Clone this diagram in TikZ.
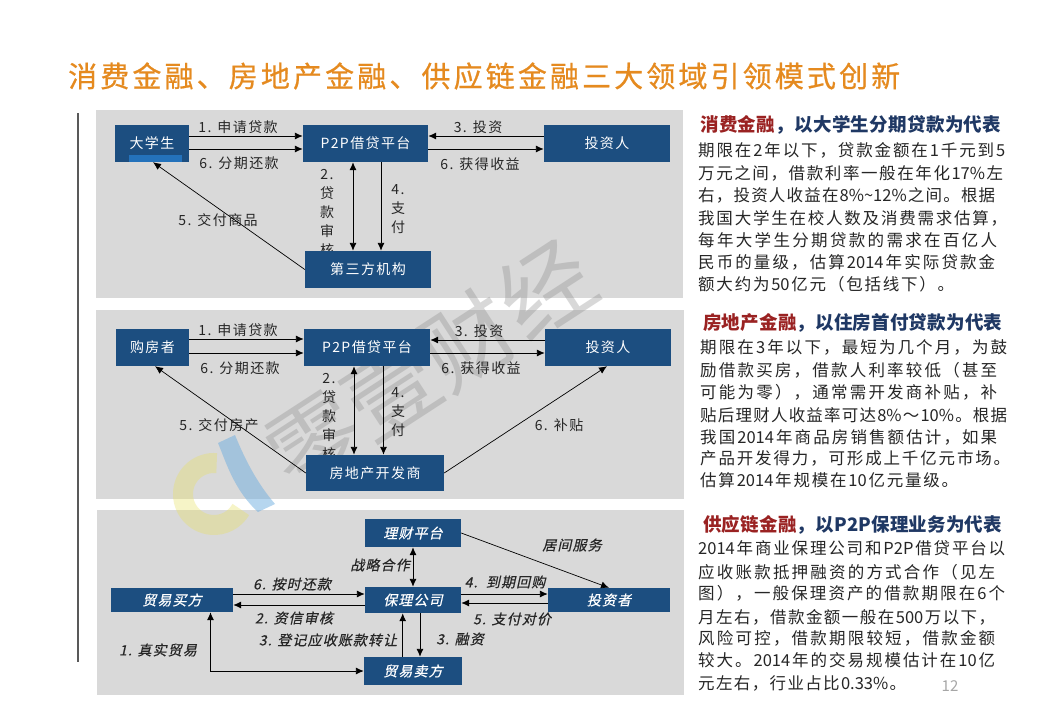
\documentclass[tikz,border=0pt]{standalone}
\usepackage{fontspec}
\usetikzlibrary{arrows.meta,calc}
\setmainfont{Noto Sans CJK SC}
\newfontfamily\cjkls[LetterSpace=10]{Noto Sans CJK SC}
\newfontfamily\cjkit[FakeSlant=0.22,LetterSpace=8,FakeBold=0.5]{Noto Sans CJK SC}
\newfontfamily\titlef[FakeBold=0.6]{Noto Sans CJK SC}
\definecolor{boxblue}{HTML}{1C4E80}
\definecolor{panelgray}{HTML}{D9D9D9}
\definecolor{headred}{HTML}{9A2222}
\definecolor{headblue}{HTML}{1F3864}
\definecolor{titleorange}{HTML}{E58A1F}
\definecolor{bodytext}{HTML}{262626}
\definecolor{logoyellow}{HTML}{E8E060}
\definecolor{logoblue}{HTML}{6FAEE0}
\tikzset{
  panel/.style={fill=panelgray,draw=none},
  bluebox/.style={fill=boxblue,draw=none,text=white,inner sep=0pt,font=\cjkls\fontsize{14}{16}\selectfont},
  itbox/.style={bluebox,font=\cjkit\fontsize{14}{16}\selectfont},
  lab/.style={inner sep=0pt,text=black!85,font=\cjkls\fontsize{14}{19}\selectfont,align=center},
  itlab/.style={lab,font=\cjkit\fontsize{14}{19}\selectfont},
  conn/.style={draw=black,line width=0.9pt,-{Latex[length=8pt,width=7pt]}},
  dbl/.style={draw=black,line width=0.9pt,{Latex[length=8pt,width=7pt]}-{Latex[length=8pt,width=7pt]}},
  thinconn/.style={conn,line width=0.7pt},
  bodyline/.style={anchor=west,inner sep=0pt,text=bodytext,font=\fontsize{16.5}{18}\selectfont},
  headline/.style={anchor=west,inner sep=0pt,font=\bfseries\fontsize{18.5}{20}\selectfont},
}
\makeatletter
\newcommand{\spreadchars}[1]{\@tfor\sc@t:=#1\do{\sc@t\hskip 0pt plus 1fil}\unskip}
\makeatother
\newcommand{\jline}[5]{\node[bodyline] (#1) at (#2,#3) {\makebox[#4pt][s]{\spreadchars{#5}}};}
\newcommand{\hdline}[6]{\node[headline] (#1) at (#2,#3) {\makebox[#4pt][s]{\textcolor{headred}{\spreadchars{#5}}\hskip 0pt plus 1fil\textcolor{headblue}{\spreadchars{#6}}}};}
\begin{document}
\begin{tikzpicture}[x=1pt,y=-1pt]
\useasboundingbox (0,0) rectangle (1040,720);
\fill[white] (0,0) rectangle (1040,720);
% title
\node[anchor=west,inner sep=0pt,text=titleorange,font=\titlef\fontsize{29}{30}\selectfont] (title) at (68,76) {\makebox[832pt][s]{\spreadchars{消费金融、房地产金融、供应链金融三大领域引领模式创新}}};
% side rule
\draw[line width=1.8pt,draw=black!65] (78,113) -- (78,662);
% panels
\fill[panel] (96,110) rectangle (683,298);
\fill[panel] (96,310) rectangle (684,499);
\fill[panel] (97,510) rectangle (684,695);
% logo
\draw[line width=20pt,draw=logoyellow,opacity=.35] (216.7,463.1) arc[start angle=-85,end angle=-330,radius=31];
\fill[fill=logoblue,opacity=.5] (218,443) .. controls (226,462) and (234,490) .. (258,512) -- (275,504) .. controls (258,484) and (246,462) .. (235,435) -- cycle;
% watermark
\node[rotate=33,text=gray,opacity=.3,inner sep=0pt,font=\fontsize{92}{96}\selectfont] (wm) at (430,365) {零壹财经};
% labels panel 1
\node[lab] (l11) at (238,127) {1. 申请贷款};
\node[lab] (l12) at (239,163) {6. 分期还款};
\node[lab] (l13) at (478,127) {3. 投资};
\node[lab] (l14) at (480,164) {6. 获得收益};
\node[lab] (l15) at (218,220) {5. 交付商品};
\node[lab,anchor=north] (l16) at (327,169) {2.\\贷\\款\\审\\核};
\node[lab,anchor=north] (l17) at (398,184) {4.\\支\\付};
% labels panel 2
\node[lab] (l21) at (238,330) {1. 申请贷款};
\node[lab] (l22) at (240,368) {6. 分期还款};
\node[lab] (l23) at (479,331) {3. 投资};
\node[lab] (l24) at (481,368) {6. 获得收益};
\node[lab] (l25) at (219,425) {5. 交付房产};
\node[lab] (l26) at (559,425) {6. 补贴};
\node[lab,anchor=north] (l27) at (329,373) {2.\\贷\\款\\审\\核};
\node[lab,anchor=north] (l28) at (398,387) {4.\\支\\付};
% labels panel 3
\node[itlab] (l31) at (292,584) {6. 按时还款};
\node[itlab] (l32) at (294,618) {2. 资信审核};
\node[itlab] (l33) at (328,640) {3. 登记应收账款转让};
\node[itlab] (l34) at (460,639) {3. 融资};
\node[itlab] (l35) at (158,650) {1. 真实贸易};
\node[itlab] (l36) at (380,565) {战略合作};
\node[itlab] (l37) at (572,545) {居间服务};
\node[itlab] (l38) at (505,582) {4.\ \ 到期回购};
\node[itlab] (l39) at (512,619) {5. 支付对价};
% boxes panel 1
\node[bluebox,minimum width=74pt,minimum height=37pt] (stu) at (152,143.5) {大学生};
\node[bluebox,minimum width=125pt,minimum height=37pt] (p2p) at (365.5,143.5) {P2P借贷平台};
\node[bluebox,minimum width=126pt,minimum height=37pt] (inv) at (607,143.5) {投资人};
\node[bluebox,minimum width=126pt,minimum height=37pt] (third) at (368,269.5) {第三方机构};
\fill[fill={rgb,255:red,36;green,114;blue,187}] (129,155) rectangle (182,161.5);
% boxes panel 2
\node[bluebox,minimum width=73pt,minimum height=37pt] (buy) at (152.5,347.5) {购房者};
\node[bluebox,minimum width=126pt,minimum height=37pt] (p2pb) at (367,347.5) {P2P借贷平台};
\node[bluebox,minimum width=126pt,minimum height=37pt] (invb) at (608,347.5) {投资人};
\node[bluebox,minimum width=138pt,minimum height=36pt] (dev) at (375,473) {房地产开发商};
% boxes panel 3
\node[itbox,minimum width=96pt,minimum height=28pt] (lc) at (413,533) {理财平台};
\node[itbox,minimum width=96pt,minimum height=26pt] (fac) at (413,600) {保理公司};
\node[itbox,minimum width=122pt,minimum height=24pt] (buyer) at (172,600) {贸易买方};
\node[itbox,minimum width=122pt,minimum height=24pt] (inv3) at (609,600) {投资者};
\node[itbox,minimum width=98pt,minimum height=28pt] (sell) at (413,671) {贸易卖方};
% connectors panel 1
\draw[conn] (stu.east |- 0,136) -- (p2p.west |- 0,136);
\draw[conn] (stu.east |- 0,149) -- (p2p.west |- 0,149);
\draw[conn] (inv.west |- 0,136) -- (p2p.east |- 0,136);
\draw[conn] (p2p.east |- 0,149) -- (inv.west |- 0,149);
\draw[dbl] (p2p.south -| 353,0) -- (third.north -| 353,0);
\draw[conn] (p2p.south -| 381,0) -- (third.north -| 381,0);
\draw[thinconn] (third.west) -- (stu.south -| 153,0);
% connectors panel 2
\draw[conn] (buy.east |- 0,339) -- (p2pb.west |- 0,339);
\draw[conn] (buy.east |- 0,353) -- (p2pb.west |- 0,353);
\draw[conn] (invb.west |- 0,340) -- (p2pb.east |- 0,340);
\draw[conn] (p2pb.east |- 0,353) -- (invb.west |- 0,353);
\draw[dbl] (p2pb.south -| 354,0) -- (dev.north -| 354,0);
\draw[conn] (p2pb.south -| 383.5,0) -- (dev.north -| 383.5,0);
\draw[thinconn] (dev.west) -- (buy.south -| 155,0);
\draw[thinconn] (dev.east) -- (invb.south -| 607,0);
% connectors panel 3
\draw[conn] (buyer.east |- 0,594) -- (fac.west |- 0,594);
\draw[conn] (fac.west |- 0,605) -- (buyer.east |- 0,605);
\draw[dbl] (lc.south) -- (fac.north);
\draw[conn] (fac.east |- 0,594) -- (inv3.west |- 0,594);
\draw[conn] (inv3.west |- 0,603) -- (fac.east |- 0,603);
\draw[thinconn] (lc.east) -- (inv3.north);
\draw[conn] (sell.north -| 402.7,0) -- (fac.south -| 402.7,0);
\draw[conn] (fac.south -| 420,0) -- (sell.north -| 420,0);
\draw[dbl] (buyer.south -| 210.5,0) |- (sell.west);
% right text 1
\hdline{h1}{700}{125}{301}{消费金融}{，以大学生分期贷款为代表}
\jline{a1}{698}{150}{307}{期限在2年以下，贷款金额在1千元到5}
\jline{a2}{698}{173}{305}{万元之间，借款利率一般在年化{17\%}左}
\jline{a3}{698}{195}{297}{右，投资人收益在{8\%\textasciitilde 12\%}之间。根据}
\jline{a4}{698}{218}{309}{我国大学生在校人数及消费需求估算，}
\jline{a5}{698}{240}{299}{每年大学生分期贷款的需求在百亿人}
\jline{a6}{698}{262}{297}{民币的量级，估算{2014}年实际贷款金}
\jline{a7}{698}{284}{256}{额大约为{50}亿元（包括线下）。}
% right text 2
\hdline{h2}{703}{323}{299}{房地产金融}{，以住房首付贷款为代表}
\jline{b1}{700}{347}{307}{期限在3年以下，最短为几个月，为鼓}
\jline{b2}{700}{370}{297}{励借款买房，借款人利率较低（甚至}
\jline{b3}{700}{392}{297}{可能为零），通常需开发商补贴，补}
\jline{b4}{700}{415}{307}{贴后理财人收益率可达{8\%}～{10\%}。根据}
\jline{b5}{700}{437}{297}{我国{2014}年商品房销售额估计，如果}
\jline{b6}{700}{458}{310}{产品开发得力，可形成上千亿元市场。}
\jline{b7}{700}{480}{258}{估算{2014}年规模在{10}亿元量级。}
% right text 3
\hdline{h3}{703}{525}{299}{供应链金融}{，以{P2P}保理业务为代表}
\jline{c1}{698}{548}{307}{{2014}年商业保理公司和{P2P}借贷平台以}
\jline{c2}{698}{572}{297}{应收账款抵押融资的方式合作（见左}
\jline{c3}{698}{593}{307}{图），一般保理资产的借款期限在6个}
\jline{c4}{698}{617}{297}{月左右，借款金额一般在{500}万以下，}
\jline{c5}{698}{638}{297}{风险可控，借款期限较短，借款金额}
\jline{c6}{698}{660}{297}{较大。{2014}年的交易规模估计在{10}亿}
\jline{c7}{698}{683}{208}{元左右，行业占比{0.33\%}。}
\node[inner sep=0pt,text=black!35,font=\fontsize{15}{17}\selectfont] (pg) at (950,686) {12};
\end{tikzpicture}
\end{document}
